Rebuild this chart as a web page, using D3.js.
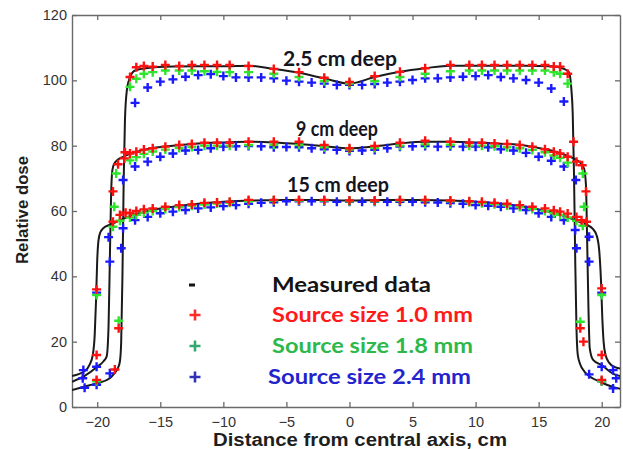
<!DOCTYPE html>
<html><head><meta charset="utf-8">
<script src="https://cdn.jsdelivr.net/npm/d3@7"></script>
<style>body{margin:0;background:#fff;} svg{display:block;}</style>
</head><body>
<svg id="c" width="623" height="449"></svg>
<script>
// ---------- DATA ----------
const xTicks = [-20,-15,-10,-5,0,5,10,15,20];
const yTicks = [0,20,40,60,80,100,120];

// measured profiles (black lines)
const measX25 = [-22,-21,-20,-19,-18.6,-18.35,-18.2,-18.1,-18.0,-17.9,-17.8,-17.65,-17.4,-17,-16,-14,-12,-10,-8,-6,-4,-2,0,2,4,6,8,10,12,14,16,17,17.4,17.6,17.7,17.8,17.9,18.0,18.1,18.3,18.6,19,20,21,21.45];
const meas25  = [5.2,6.3,7.3,8.8,10.5,12,14,20,40,70,88,97,101,103,103.8,104.2,104.3,104.3,104.5,103.5,102.3,100.6,99,101,102.6,103.7,104.5,104.5,104.5,104.5,104.3,103.5,102.5,97,90,72,45,24,16,13,11,9.5,7.5,6,5.6];
const measX9  = [-22,-21,-20,-19.5,-19.25,-19.1,-19.0,-18.9,-18.8,-18.65,-18.4,-18,-17,-16,-14,-12,-10,-8,-6,-4,-2,0,2,4,6,8,10,12,14,15,16,17,17.8,18.3,18.6,18.75,18.85,18.95,19.05,19.3,20,21,21.45];
const meas9   = [7.7,9.5,12.3,14,15.5,25,45,65,72.5,74.5,75.6,76.5,78,79,80,80.7,81,81.2,81,80.5,79.8,79.2,79.8,80.7,81.2,81.2,81,80.6,80,79.3,78.5,77.3,76,74.8,73,68,50,30,18,14.5,12.8,10,9.5];
const measX15 = [-22,-21,-20.6,-20.35,-20.2,-20.1,-20.0,-19.9,-19.75,-19.5,-19,-18.5,-18,-17,-16,-14,-12,-10,-8,-6,-4,-2,0,2,4,6,8,10,12,14,15,16,17,18,18.8,19.3,19.6,19.8,19.95,20.05,20.15,20.3,20.6,21,21.45];
const meas15  = [9.5,11,13,16,22,32,45,51,53.5,54.8,55.8,56.6,57.5,59,60,61.3,62.2,62.8,63.2,63.3,63.4,63.4,63.2,63.3,63.4,63.4,63.2,62.8,62.2,61.2,60.5,59.6,58.5,57,55.8,54.5,52.5,48,38,27,20,16,13.5,12.3,11.8];

// simulated points: red / green share x positions, blue every cm
const xRG = [-17.4,-16.9,-16.3,-15.6,-14.6,-13.5,-12.5,-11.5,-10.5,-9.5,-8,-6,-4,-2,0,2,4,6,8,9.5,10.5,11.5,12.5,13.5,14.5,15.5,16.2,16.7,17.3];
const xB  = [-17,-16,-15,-14,-13,-12,-11,-10,-9,-8,-7,-6,-5,-4,-3,-2,-1,0,1,2,3,4,5,6,7,8,9,10,11,12,13,14,15,16,17];

const red25   = [101,104,104.4,104.2,104.7,104.4,104.7,104.7,104.7,104.7,104.4,103.5,102.5,100.8,99.5,101.3,102.6,103.7,104.7,104.7,104.7,104.7,104.7,104.7,104.7,104.7,104.2,104.2,102];
const green25 = [98,100.5,102,102.5,103,103,103,102.8,102.6,102.5,102.5,102,101,99.8,99,99.8,101,102,102.8,103,103,103,103,103,103,103,102.5,102,99];
const blue25  = [93.1,97.8,99.6,100.3,101.1,101.6,101.9,101.3,100.9,100.9,100.9,100.6,99.9,99.6,99.3,99.0,98.6,98.6,98.6,98.9,99.3,99.6,100.1,100.6,100.6,100.9,101.1,101.3,101.6,101.0,100.6,100.1,99.3,97.5,93.5];
const red9    = [77.6,78.1,78.8,79.2,79.7,80.2,80.5,80.9,80.9,80.9,81.2,81.2,81.2,80.2,79.2,79.9,80.9,81.5,81.2,80.9,80.9,80.7,80.5,80.2,79.7,78.9,78.1,77.6,76.6];
const green9  = [75.5,76.5,77.5,78.2,78.8,79.3,79.6,80,80,80,80.2,80.3,80.2,79.5,78.8,79.3,80,80.4,80.3,80,80,79.8,79.5,79.2,78.7,78,77,76.3,74.8];
const blue9   = [73.6,75.1,76.6,77.6,78.5,78.7,79.2,79.7,79.8,79.9,79.8,79.5,79.6,79.5,79.2,78.9,78.7,78.4,78.5,78.7,79.2,79.7,79.8,79.9,79.7,79.8,79.7,79.7,79.5,78.9,78.5,77.8,76.6,75.4,73.6];
const red15   = [59.3,60,60.5,60.8,61.3,61.8,62,62.5,62.6,62.8,63.4,63.4,63.4,63.4,63.2,63.2,63.4,63.4,63.2,63,62.8,62.5,62.2,61.8,61.3,60.8,60.2,59.8,59.2];
const green15 = [58,58.8,59.5,60,60.6,61.2,61.6,62,62.3,62.5,63,63.2,63.2,63.2,63,63,63.2,63.2,63,62.7,62.4,62.1,61.7,61.2,60.6,60,59.3,58.8,58];
const blue15  = [57.2,58.2,59.3,59.8,60.3,60.8,61.1,61.5,61.8,62.2,62.5,62.7,63,63,63,63,62.8,62.8,62.8,62.8,62.8,62.8,62.8,62.7,62.6,62.4,62.2,61.8,61.6,61.3,60.8,60.3,59.3,58.2,57.2];

// extra points on the field edges and tails [x, dose]
const edgeRed   = [[-17.8,78],[-18.3,24.1],[-18.6,11.5],[-20.05,8.3],[-18.75,66],[-18.35,74.3],[-17.85,76.1],[-20.05,15.9],[-18.75,56.7],[-18.2,58.8],[-17.75,59.5],[-20.05,36],
                   [17.77,81.2],[18.3,24.1],[18.55,20],[20.0,8.3],[18.0,75.1],[18.45,74],[18.75,66],[20.0,15.9],[18.0,58.2],[18.4,57.2],[18.8,56.7],[20.0,36.3]];
const edgeGreen = [[-18.3,26.4],[-20.05,7.9],[-18.5,71.5],[-18.65,61.3],[-18.75,55.2],[-18.2,57],[-20.05,34.3],
                   [18.3,26.1],[20.0,7.9],[18.5,71.5],[18.6,61.3],[18.5,55.5],[18.0,57],[20.0,34.3]];
const edgeBlue  = [[-21.1,11.3],[-21.15,8.8],[-21.0,5.9],[-20.05,12.3],[-20.05,6.8],[-19.0,10.3],[-18.1,48.6],[-19.0,44.5],[-19.1,52],[-17.95,69.5],[-17.95,54.7],[-20.05,35],
                   [20.9,11.3],[21.15,8.8],[20.9,5.7],[20.0,12.3],[20.0,7.9],[19.0,10],[18.0,48.6],[19.0,44.5],[19.0,52.1],[17.95,69.5],[17.9,54.2],[20.0,35]];

const depthLabels = ["2.5 cm deep","9 cm deep","15 cm deep"];
const legendLabels = ["Measured data","Source size 1.0 mm","Source size 1.8 mm","Source size 2.4 mm"];

// ---------- CHART ----------
const W=623,H=449;
const x=d3.scaleLinear().domain([-22,21.45]).range([72,620]);
const y=d3.scaleLinear().domain([0,120]).range([407,15]);
const svg=d3.select('#c');
svg.append('rect').attr('width',W).attr('height',H).attr('fill','#fff');

const axColor='#6a6a6a';
function styleAxis(g){
  g.select('.domain').attr('stroke',axColor).attr('stroke-width',1.4);
  g.selectAll('.tick line').attr('stroke',axColor).attr('stroke-width',1.3);
  g.selectAll('.tick text').attr('fill','#333').attr('font-family','"Liberation Sans",Arial,sans-serif').attr('font-size','14.5px');
}
svg.append('g').attr('transform',`translate(0,${y(0)})`)
  .call(d3.axisBottom(x).tickValues(xTicks).tickSizeInner(-5).tickSizeOuter(0).tickPadding(10)).call(styleAxis);
svg.append('g').attr('transform',`translate(0,${y(120)})`)
  .call(d3.axisTop(x).tickValues(xTicks).tickSizeInner(-5).tickSizeOuter(0).tickFormat('')).call(styleAxis);
svg.append('g').attr('transform',`translate(${x(-22)},0)`)
  .call(d3.axisLeft(y).tickValues(yTicks).tickSizeInner(-5).tickSizeOuter(0).tickPadding(5)).call(styleAxis);
svg.append('g').attr('transform',`translate(${x(21.45)},0)`)
  .call(d3.axisRight(y).tickValues(yTicks).tickSizeInner(-5).tickSizeOuter(0).tickFormat('')).call(styleAxis);

// axis titles
svg.append('text').attr('x',360).attr('y',446).attr('text-anchor','middle')
  .attr('font-family','"Liberation Sans",Arial,sans-serif').attr('font-weight','bold').attr('font-size','18px')
  .attr('fill','#1e1e1e').attr('textLength',294).attr('lengthAdjust','spacingAndGlyphs')
  .text('Distance from central axis, cm');
svg.append('text').attr('transform','translate(28,210) rotate(-90)').attr('text-anchor','middle')
  .attr('font-family','"Liberation Sans",Arial,sans-serif').attr('font-weight','bold').attr('font-size','16px')
  .attr('fill','#1e1e1e').attr('textLength',108).attr('lengthAdjust','spacingAndGlyphs')
  .text('Relative dose');

// clip
svg.append('clipPath').attr('id','clip').append('rect')
  .attr('x',x(-22)).attr('y',y(120)).attr('width',x(21.45)-x(-22)).attr('height',y(0)-y(120));
const plot=svg.append('g').attr('clip-path','url(#clip)');

const line=d3.line().x(d=>x(d[0])).y(d=>y(d[1])).curve(d3.curveMonotoneX);
[[measX25,meas25],[measX9,meas9],[measX15,meas15]].forEach(([xs,vs])=>{
  plot.append('path').datum(xs.map((v,i)=>[v,vs[i]])).attr('d',line)
    .attr('fill','none').attr('stroke','#1a1a1a').attr('stroke-width',2);
});

const plus=s=>`M${-s},0H${s}M0,${-s}V${s}`;
function pts(xs,vs){return xs.map((v,i)=>[v,vs[i]]);}
const series=[
  {c:'#1a1aff', d:[...pts(xB,blue25),...pts(xB,blue9),...pts(xB,blue15),...edgeBlue]},
  {c:'#2ee52e', d:[...pts(xRG,green25),...pts(xRG,green9),...pts(xRG,green15),...edgeGreen]},
  {c:'#ff1010', d:[...pts(xRG,red25),...pts(xRG,red9),...pts(xRG,red15),...edgeRed]}
];
series.forEach(s=>{
  plot.append('g').selectAll('path').data(s.d).join('path')
    .attr('transform',d=>`translate(${x(d[0])},${y(d[1])})`)
    .attr('d',plus(4.5)).attr('stroke',s.c).attr('stroke-width',2.4).attr('fill','none');
});

// depth labels
const depthPos=[[340,66,114],[337,136,82],[338,192,102]];
depthLabels.forEach((t,i)=>{
  svg.append('text').attr('x',depthPos[i][0]).attr('y',depthPos[i][1]).attr('text-anchor','middle')
    .attr('font-family','Lato,"Open Sans",sans-serif').attr('font-weight','bold').attr('font-size','20px')
    .attr('fill','#15151f').attr('textLength',depthPos[i][2]).attr('lengthAdjust','spacingAndGlyphs').text(t);
});

// legend
const legTextCol=['#141414','#ff1a1a','#2db84a','#2424cc'];
const legSymCol=['#141414','#ff2a2a','#33a870','#3030b8'];
const legY=[285,315,346,377];
const legW=[159,201,201,203];
legendLabels.forEach((t,i)=>{
  if(i===0){
    svg.append('rect').attr('x',189).attr('y',legY[i]-1.5).attr('width',6).attr('height',3).attr('fill',legSymCol[i]);
  } else {
    svg.append('path').attr('transform',`translate(195,${legY[i]})`).attr('d',plus(5.5))
      .attr('stroke',legSymCol[i]).attr('stroke-width',2.6).attr('fill','none');
  }
  svg.append('text').attr('x',i===3?268:272).attr('y',legY[i]+6.5)
    .attr('font-family','Lato,"Open Sans",sans-serif').attr('font-weight','bold').attr('font-size','20px')
    .attr('fill',legTextCol[i]).attr('textLength',legW[i]).attr('lengthAdjust','spacingAndGlyphs').text(t);
});
</script>
</body></html>
